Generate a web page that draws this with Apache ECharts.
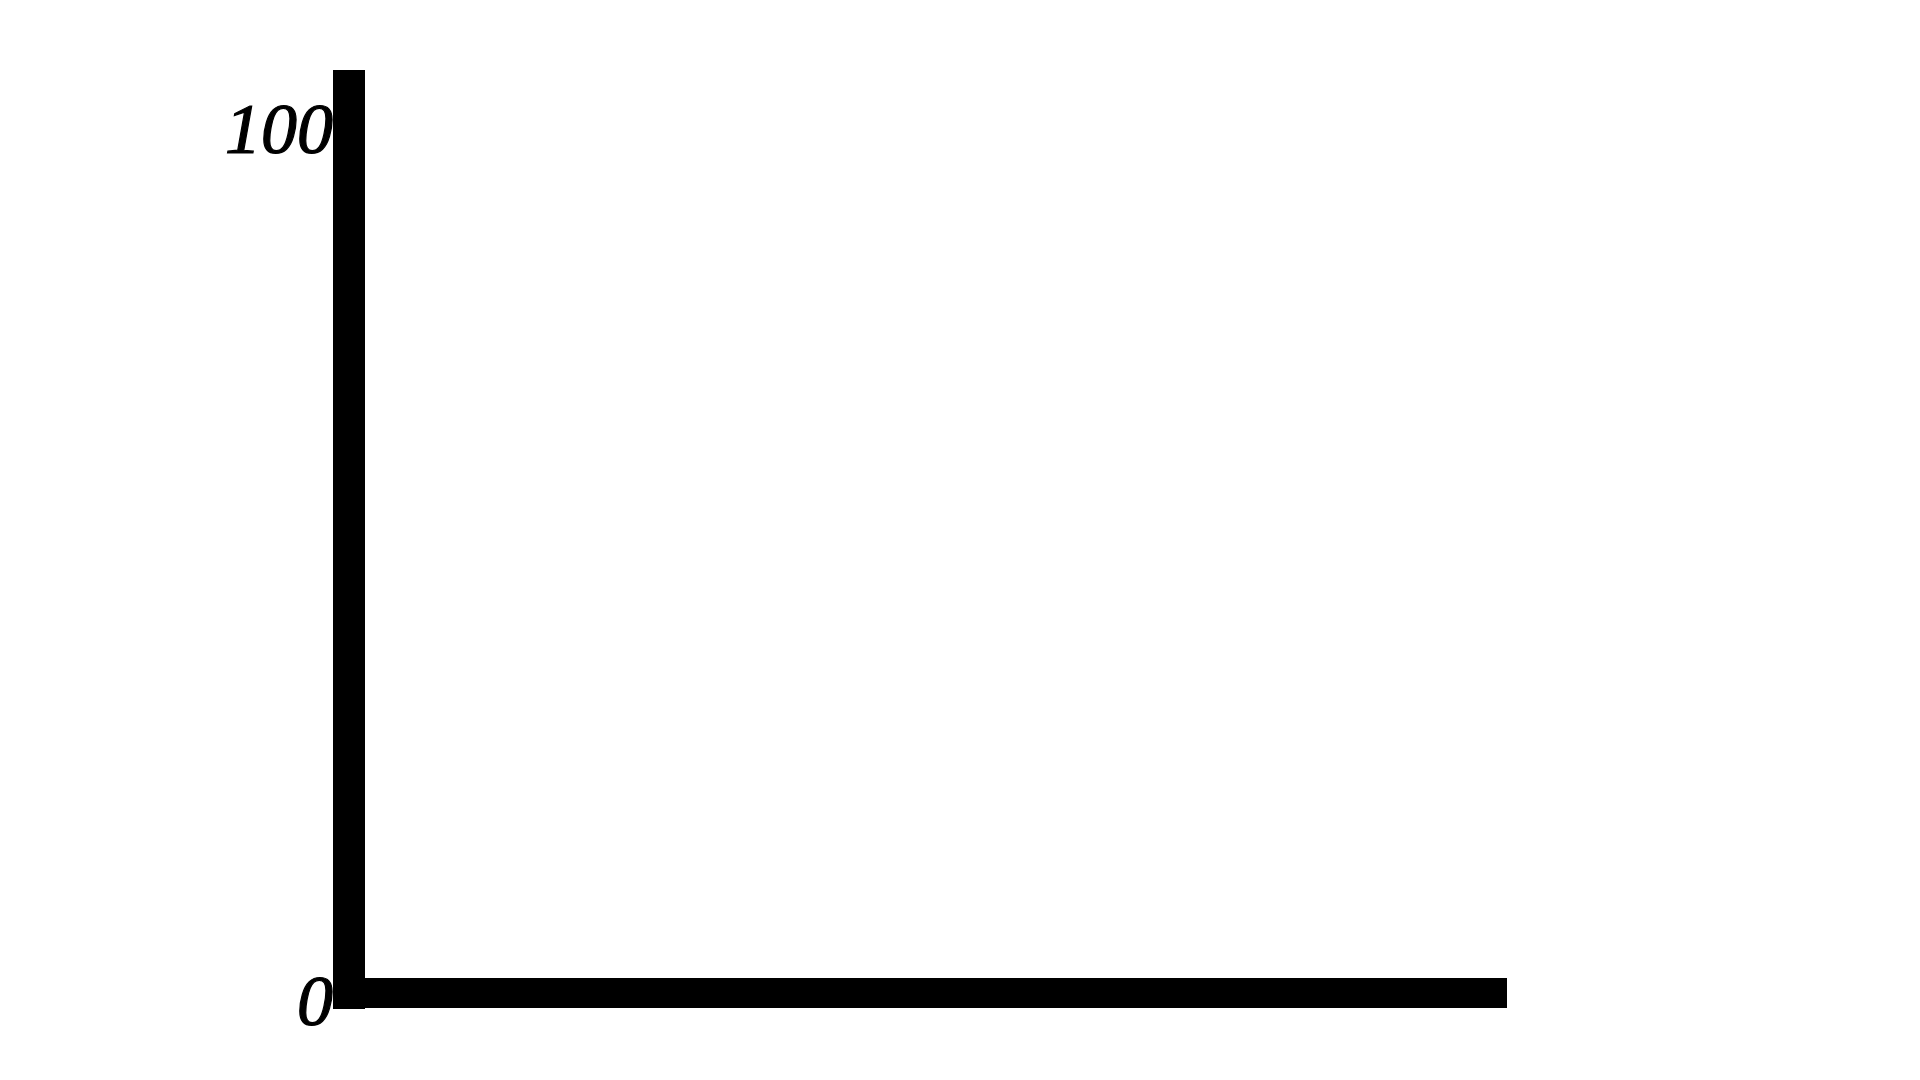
<!DOCTYPE html>
<html>
<head>
<meta charset="utf-8">
<script src="https://cdn.jsdelivr.net/npm/echarts@6/dist/echarts.min.js"></script>
<style>
html,body{margin:0;padding:0;background:#fff;}
#chart{width:1920px;height:1080px;}
</style>
</head>
<body>
<div id="chart"></div>
<script>
// Data (the reference chart shows only empty axes)
var categories = [];
var seriesValues = [];
var yTickLabels = [0, 100];
var yMin = 0;
var yMax = 104;

var chart = echarts.init(document.getElementById('chart'), null, {renderer: 'canvas'});
chart.setOption({
  animation: false,
  backgroundColor: '#ffffff',
  grid: {left: 349, top: 86, right: 428, bottom: 87, containLabel: false},
  xAxis: {
    type: 'category',
    data: categories,
    axisLine: {show: true, lineStyle: {color: '#000', width: 30, cap: 'square'}},
    axisTick: {show: false},
    axisLabel: {show: false},
    splitLine: {show: false}
  },
  yAxis: {
    type: 'value',
    min: yMin,
    max: yMax,
    interval: 100,
    axisLine: {show: true, lineStyle: {color: '#000', width: 32, cap: 'square'}},
    axisTick: {show: false},
    splitLine: {show: false},
    axisLabel: {
      show: true,
      margin: 16,
      verticalAlign: 'top',
      lineHeight: 26,
      showMaxLabel: false,
      color: '#000',
      textBorderColor: '#000',
      textBorderWidth: 1.2,
      fontFamily: 'Liberation Serif',
      fontStyle: 'italic',
      fontSize: 72,
      formatter: function (v) { return yTickLabels.indexOf(v) >= 0 ? String(v) : ''; }
    }
  },
  series: [{type: 'line', data: seriesValues}]
});
</script>
</body>
</html>
